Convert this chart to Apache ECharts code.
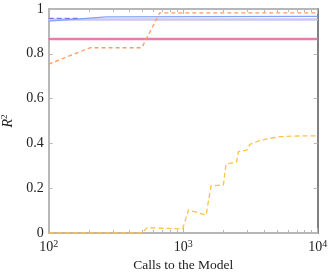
<!DOCTYPE html>
<html><head><meta charset="utf-8">
<script src="https://cdn.jsdelivr.net/npm/echarts@6/dist/echarts.min.js"></script>
<style>html,body{margin:0;padding:0;background:#fff}#c{width:333px;height:273px}</style>
</head><body><div id="c"></div>
<script>
// data
const xMajor = [100, 1000, 10000];
const xMinor = [200,300,400,500,600,700,800,900,2000,3000,4000,5000,6000,7000,8000,9000];
const yTicks = [0, 0.2, 0.4, 0.6, 0.8, 1];
const blueDashedX = [100, 165];
const blueDashedY = [0.958, 0.958];
const blueSolidX = [100, 270, 10000];
const blueSolidY = [0.946, 0.965, 0.967];
const lavenderX = [100, 10000];
const lavenderY = [0.953, 0.953];
const pinkX = [100, 10000];
const pinkY = [0.866, 0.866];
const orangeX = [100, 203, 492, 670, 10000];
const orangeY = [0.754, 0.827, 0.827, 0.983, 0.983];
const yellowX = [100, 492, 540, 990, 1094, 1480, 1610, 1990, 2080, 2500, 2570, 2965, 3140, 3600, 4170, 5250, 7000, 10000];
const yellowY = [0, 0, 0.024, 0.018, 0.103, 0.08, 0.211, 0.214, 0.308, 0.317, 0.363, 0.37, 0.396, 0.41, 0.42, 0.43, 0.433, 0.434];

const zip = (a, b) => a.map((v, i) => [v, b[i]]);
const FONT = 'Liberation Serif';
const AX = '#a0a0a0';

function xAx(pos, minor, show) {
  return {
    type: 'log', logBase: 10, min: 100, max: 10000, position: pos,
    axisLine: { show: show, lineStyle: { color: AX, width: 1.5 } },
    splitLine: { show: false },
    axisTick: { show: true, inside: true, length: minor ? 3 : 5, customValues: minor ? xMinor : xMajor, lineStyle: { color: '#b8b8b8', width: 1 } },
    axisLabel: {
      show: show && pos === 'bottom',
      customValues: xMajor,
      margin: 6,
      formatter: v => '{b|10}{s|' + Math.round(Math.log10(v)) + '}',
      rich: { b: { fontFamily: FONT, fontSize: 14, lineHeight: 16, color: '#222' }, s: { fontFamily: FONT, fontSize: 10, lineHeight: 10, color: '#222', verticalAlign: 'top' } }
    },
    name: show && pos === 'bottom' ? 'Calls to the Model' : '',
    nameLocation: 'middle', nameGap: 24,
    nameTextStyle: { fontFamily: FONT, fontSize: 13.5, color: '#222' }
  };
}
function yAx(pos) {
  return {
    type: 'value', min: 0, max: 1, interval: 0.2, position: pos,
    axisLine: { show: true, lineStyle: { color: pos === 'right' ? '#808080' : AX, width: pos === 'right' ? 2 : 1.5 } },
    splitLine: { show: false },
    axisTick: { show: true, inside: true, length: 4, lineStyle: { color: '#b8b8b8' } },
    axisLabel: { show: pos === 'left', margin: 5, fontFamily: FONT, fontSize: 14, color: '#222', formatter: v => String(+v.toFixed(1)) },
    name: pos === 'left' ? '{i|R}{s|2}' : '',
    nameLocation: 'middle', nameGap: 31, nameRotate: 90,
    nameTextStyle: { rich: { i: { fontFamily: FONT, fontStyle: 'italic', fontSize: 14, lineHeight: 16, color: '#222' }, s: { fontFamily: FONT, fontSize: 9, lineHeight: 9, color: '#222', verticalAlign: 'top' } } }
  };
}
function line(x, y, color, width, dash, z) {
  return { type: 'line', xAxisIndex: 0, yAxisIndex: 0, data: zip(x, y), showSymbol: false, symbol: 'none', z: z,
    lineStyle: { color: color, width: width, type: dash ? dash : 'solid' }, animation: false };
}

const chart = echarts.init(document.getElementById('c'), null, { renderer: 'canvas' });
chart.setOption({
  animation: false,
  grid: { left: 48.7, right: 15.3, top: 9, bottom: 40, outerBoundsMode: 'none', containLabel: false },
  xAxis: [xAx('bottom', false, true), xAx('bottom', true, false), xAx('top', false, true), xAx('top', true, false)],
  yAxis: [yAx('left'), yAx('right')],
  series: [
    line(pinkX, pinkY, 'rgba(240,160,200,0.45)', 3.5, null, 1),
    line(pinkX, pinkY, '#e0609a', 1.4, null, 2),
    line(lavenderX, lavenderY, '#cdc6f2', 2.6, null, 2),
    line(blueSolidX, blueSolidY, '#7fa4f5', 1.3, null, 3),
    line(blueDashedX, blueDashedY, '#7b78ee', 1.3, [5, 3], 4),
    line(orangeX, orangeY, '#ff9a5c', 1.3, [4, 3], 5),
    line(yellowX, yellowY, '#ffc247', 1.3, [5, 3], 5)
  ]
});
</script>
</body></html>
